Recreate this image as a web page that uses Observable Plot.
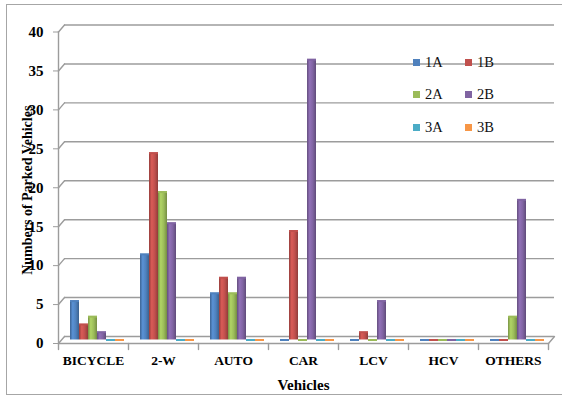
<!DOCTYPE html>
<html>
<head>
<meta charset="utf-8">
<script src="https://cdn.jsdelivr.net/npm/d3@7"></script>
<script src="https://cdn.jsdelivr.net/npm/@observablehq/plot@0.6"></script>
<style>
  body { margin: 0; background: #fff; }
  #chart { position: relative; width: 562px; height: 396px; overflow: hidden;
           font-family: "Liberation Serif", "Times New Roman", serif; }
  #chart svg { position: absolute; left: 0; top: 0; }
  #border { position: absolute; left: 6px; top: 4px; width: 580px; height: 391px;
            border: 1.5px solid #a6a6a6; box-sizing: border-box; }
  #legend { position: absolute; left: 413px; top: 46px; display: grid;
            grid-template-columns: 52px 52px; grid-auto-rows: 32.5px; }
  #legend .item { display: flex; align-items: center; font-size: 14.5px; color: #111; }
  #legend .sw { width: 7px; height: 7px; margin-right: 5px; }
</style>
</head>
<body>
<div id="chart"><div id="border"></div></div>
<script>
// Vehicle categories along the x axis
const categories = ["BICYCLE", "2-W", "AUTO", "CAR", "LCV", "HCV", "OTHERS"];
// Survey locations (series)
const series = ["1A", "1B", "2A", "2B", "3A", "3B"];
// Parked vehicle counts per category, one array per location
const s1A = [5, 11, 6, 0, 0, 0, 0];
const s1B = [2, 24, 8, 14, 1, 0, 0];
const s2A = [3, 19, 6, 0, 0, 0, 3];
const s2B = [1, 15, 8, 36, 5, 0, 18];
const s3A = [0, 0, 0, 0, 0, 0, 0];
const s3B = [0, 0, 0, 0, 0, 0, 0];
// Y axis tick values
const yTicks = [0, 5, 10, 15, 20, 25, 30, 35, 40];
// Office-style palette for the series
const palette = ["#4F81BD", "#C0504D", "#9BBB59", "#8064A2", "#4BACC6", "#F79646"];

const values = [s1A, s1B, s2A, s2B, s3A, s3B];
const rows = categories.flatMap((c, i) =>
  series.map((s, j) => ({category: c, series: s, value: values[j][i]})));

const grid = "#9c9c9c";
// a plain line segment used for the slanted 3D edges and boundary ticks
const segment = {draw(context, l) { context.moveTo(0, 0); context.lineTo(0, -l); }};

// cylinder shading: dark edges, bright stripe left of centre
const defs = () => {
  const d = d3.create("svg:defs");
  series.forEach((s, j) => {
    const c = palette[j];
    const g = d.append("linearGradient").attr("id", `cyl-${s}`)
      .attr("x1", 0).attr("x2", 1).attr("y1", 0).attr("y2", 0);
    g.append("stop").attr("offset", 0).attr("stop-color", d3.color(c).darker(0.7));
    g.append("stop").attr("offset", 0.3).attr("stop-color", d3.color(c).brighter(0.35));
    g.append("stop").attr("offset", 0.65).attr("stop-color", c);
    g.append("stop").attr("offset", 1).attr("stop-color", d3.color(c).darker(0.8));
  });
  return d.node();
};

const chart = Plot.plot({
  width: 562,
  height: 396,
  marginLeft: 57,
  marginRight: 13,
  marginTop: 28,
  marginBottom: 56.5,
  style: {fontFamily: "'Liberation Serif', 'Times New Roman', serif", background: "transparent", color: "#000"},
  fx: {domain: categories, padding: 0},
  x: {domain: series, paddingInner: 0, paddingOuter: 0.7, align: 0.78, axis: null},
  y: {domain: [0, 40], axis: null},
  marks: [
    defs,
    // back wall gridlines
    Plot.ruleY(yTicks, {dx: 6, dy: -3.5, stroke: grid, strokeWidth: 1.4}),
    // slanted edges joining the axis to the back wall
    Plot.vector(yTicks, {y: d => d, frameAnchor: "left", facetAnchor: "left", dy: 3.5,
      length: 9.2, rotate: 40.6, anchor: "start", shape: segment, stroke: grid, strokeWidth: 1.4}),
    Plot.vector([0], {y: d => d, frameAnchor: "right", facetAnchor: "right", dy: 3.5,
      length: 9.2, rotate: 40.6, anchor: "start", shape: segment, stroke: grid, strokeWidth: 1.4}),
    // front floor edge
    Plot.ruleY([0], {dy: 3.5, stroke: grid, strokeWidth: 1.4}),
    // category boundary ticks
    Plot.vector([0], {frameAnchor: "bottom-left", dy: 3.5, length: 6, rotate: 180,
      anchor: "start", shape: segment, stroke: grid, strokeWidth: 1.4}),
    Plot.vector([0], {frameAnchor: "bottom-right", facetAnchor: "right", dy: 3.5, length: 6, rotate: 180,
      anchor: "start", shape: segment, stroke: grid, strokeWidth: 1.4}),
    // y axis line
    Plot.frame({anchor: "left", facetAnchor: "left", dy: 3.5, stroke: grid, strokeWidth: 1.4}),
    Plot.axisY({ticks: yTicks, tickSize: 5, tickPadding: 10, dy: 3.5, stroke: grid,
      fontSize: 15, fontWeight: "bold", label: "Numbers of Parked Vehicles", labelArrow: "none",
      labelAnchor: "center", labelOffset: 36}),
    Plot.axisFx({anchor: "bottom", tickSize: 0, tickPadding: 15, fontSize: 13.5, fontWeight: "bold",
      label: "Vehicles", labelArrow: "none", labelAnchor: "center", labelOffset: 50}),
    // bars and their caps
    ...series.map((s, j) => Plot.barY(rows.filter(r => r.series === s),
      {fx: "category", x: "series", y: "value", fill: `url(#cyl-${s})`})),
    ...series.map((s, j) => Plot.tickY(rows.filter(r => r.series === s),
      {fx: "category", x: "series", y: "value", stroke: palette[j], strokeWidth: 2}))
  ]
});

// axis titles are set a little larger than the tick labels
d3.select(chart).selectAll('[aria-label="fx-axis label"]').attr("font-size", 15);
d3.select(chart).selectAll('[aria-label="y-axis label"]').attr("font-size", 14)
  .attr("transform", function () { return "translate(0,6) " + (this.getAttribute("transform") || ""); });

const host = document.getElementById("chart");
host.appendChild(chart);

// legend inside the plot area, two columns
const legend = d3.select(host).append("div").attr("id", "legend");
series.forEach((s, j) => {
  const item = legend.append("div").attr("class", "item");
  item.append("span").attr("class", "sw").style("background", palette[j]);
  item.append("span").text(s);
});
</script>
</body>
</html>
